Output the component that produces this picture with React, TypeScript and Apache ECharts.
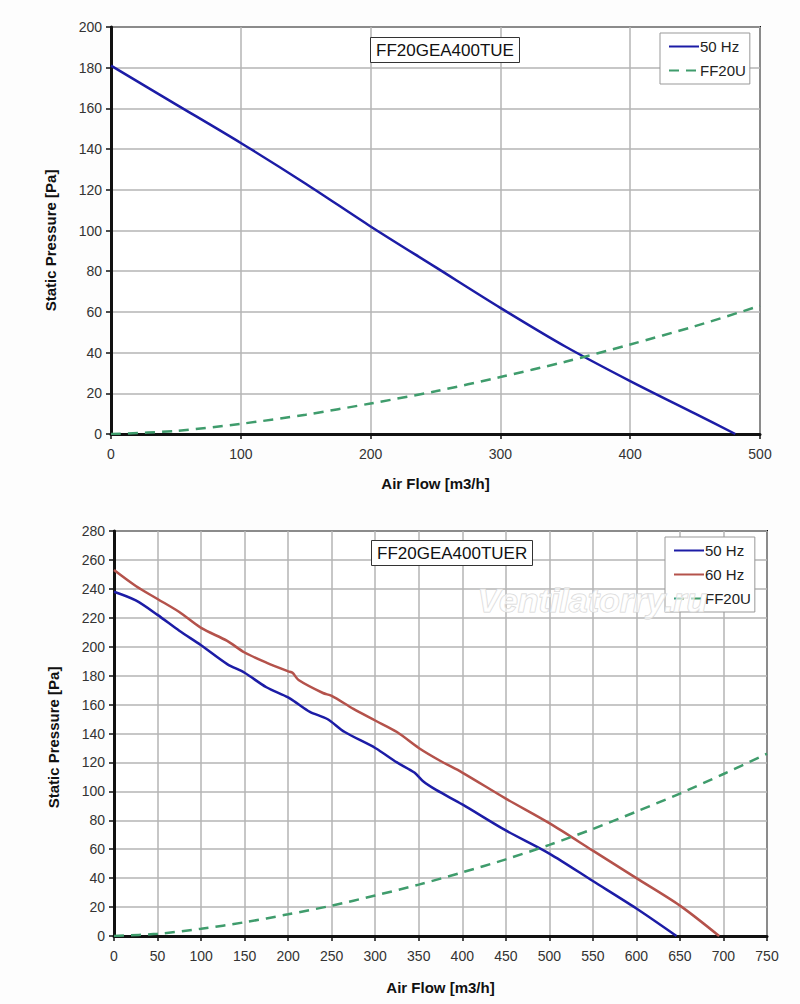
import React, { useEffect, useRef } from "react";
import * as echarts from "echarts";

// Top chart: FF20GEA400TUE
const topFan50: [number, number][] = [
  [0, 181], [50, 162], [100, 143], [150, 123], [200, 102], [250, 82],
  [300, 62], [350, 43], [400, 26], [450, 10], [481, 0],
];
const topFF20U: [number, number][] = [
  [0, 0], [50, 1.5], [100, 5], [150, 9.5], [200, 15], [250, 21],
  [300, 28], [350, 35.5], [400, 44], [450, 53], [500, 63],
];

// Bottom chart: FF20GEA400TUER
const botFan50: [number, number][] = [
  [0, 238], [25, 232], [50, 222], [75, 211], [100, 201], [130, 188], [150, 182],
  [175, 172], [200, 165], [210, 161], [225, 155], [245, 150], [265, 141],
  [300, 130], [325, 120], [345, 113], [355, 107], [370, 101], [400, 91],
  [450, 73], [500, 57], [550, 38], [600, 19], [646, 0],
];
const botFan60: [number, number][] = [
  [0, 253], [25, 242], [50, 233], [75, 224], [100, 213], [130, 204], [150, 196],
  [175, 189], [200, 183], [205, 182], [212, 177], [240, 168], [250, 166],
  [275, 157], [300, 149], [325, 141], [350, 130], [375, 121], [400, 113],
  [450, 95], [500, 78], [550, 59], [600, 40], [650, 21], [695, 0],
];
const botFF20U: [number, number][] = [
  [0, 0], [50, 1.5], [100, 5], [150, 9.5], [200, 15], [250, 21], [300, 28],
  [350, 35.5], [400, 44], [450, 53], [500, 63], [550, 74], [600, 86],
  [650, 98.5], [700, 112], [750, 126],
];

const topTitle = "FF20GEA400TUE";
const botTitle = "FF20GEA400TUER";
const yName = "Static Pressure [Pa]";
const xName = "Air Flow [m3/h]";

const BLUE = "#1c1ca6";
const RED = "#b4524b";
const GREEN = "#3f9c6c";
const FONT = "Liberation Sans, Arial, sans-serif";

export default function App() {
  const ref = useRef<HTMLDivElement>(null);
  useEffect(() => {
    document.body.style.margin = "0";
    const chart = echarts.init(ref.current!, undefined, { renderer: "svg" });
    const axisLabel = { color: "#333", fontSize: 14, fontFamily: FONT };
    const nameStyle = { color: "#111", fontSize: 15, fontWeight: "bold" as const, fontFamily: FONT };
    const split = { show: true, lineStyle: { color: "#b4b4b4", width: 1.5 } };
    const xAxisBase = (gridIndex: number, max: number, interval: number, gap: number) => ({
      type: "value", gridIndex, min: 0, max, interval,
      name: xName, nameLocation: "middle", nameGap: gap, nameTextStyle: nameStyle,
      axisLine: { show: true, onZero: false, lineStyle: { color: "#111", width: 3 } },
      axisTick: { show: true, length: 5, lineStyle: { color: "#111", width: 1.5 } },
      axisLabel: { ...axisLabel, margin: 13 },
      splitLine: split,
    });
    const yAxisBase = (gridIndex: number, max: number, shift: number) => ({
      type: "value", gridIndex, min: 0, max, interval: 20,
      name: yName, nameLocation: "middle", nameGap: 53,
      nameTextStyle: { ...nameStyle, padding: [0, shift, 0, 0] },
      axisLine: { show: true, onZero: false, lineStyle: { color: "#111", width: 3 } },
      axisTick: { show: true, length: 5, lineStyle: { color: "#111", width: 1.5 } },
      axisLabel: { ...axisLabel, margin: 9 },
      splitLine: split,
    });
    const line = (name: string, data: [number, number][], color: string, idx: number, dashed = false) => ({
      type: "line", name, data, xAxisIndex: idx, yAxisIndex: idx,
      symbol: "none", smooth: 0.3, color,
      lineStyle: { color, width: 2.5, type: dashed ? [10, 7] : "solid" },
    });
    const legendBase = {
      orient: "vertical", padding: [6, 4, 6, 8], itemGap: 9,
      itemWidth: 30, itemHeight: 10, borderColor: "#999", borderWidth: 1, backgroundColor: "#fff",
      itemStyle: { color: "rgba(0,0,0,0)", borderWidth: 0, opacity: 0 },
      textStyle: { fontSize: 15, color: "#222", fontFamily: FONT, padding: [0, 0, 0, -4] },
    };
    const titleBase = {
      padding: [5, 6, 4, 6], borderColor: "#333", borderWidth: 1, backgroundColor: "#fff",
      textStyle: { fontSize: 17, fontWeight: "normal", color: "#111", fontFamily: FONT },
    };
    chart.setOption({
      animation: false,
      backgroundColor: "#fdfdfd",
      grid: [
        { left: 111, top: 27, width: 649, height: 407, show: true, borderColor: "#111", borderWidth: 2, backgroundColor: "#fff" },
        { left: 114, top: 531, width: 653, height: 405, show: true, borderColor: "#111", borderWidth: 2, backgroundColor: "#fff" },
      ],
      title: [
        { ...titleBase, text: topTitle, left: 370, top: 37 },
        { ...titleBase, text: botTitle, left: 371, top: 540 },
      ],
      legend: [
        { ...legendBase, data: ["50 Hz", "FF20U"], left: 660, top: 33 },
        { ...legendBase, data: ["50 Hz", "60 Hz", "FF20U"], left: 665, top: 537 },
      ],
      xAxis: [xAxisBase(0, 500, 100, 42), xAxisBase(1, 750, 50, 44)],
      yAxis: [yAxisBase(0, 200, 20), yAxisBase(1, 280, 8)],
      series: [
        line("50 Hz", topFan50, BLUE, 0),
        line("FF20U", topFF20U, GREEN, 0, true),
        line("50 Hz", botFan50, BLUE, 1),
        line("60 Hz", botFan60, RED, 1),
        line("FF20U", botFF20U, GREEN, 1, true),
      ],
      graphic: [
        { type: "text", left: 477, top: 582, z: 100, silent: true,
          style: { text: "Ventilatorry.ru", fontSize: 34, fontStyle: "italic", fontWeight: "bold", fontFamily: FONT,
            fill: "rgba(255,255,255,0.6)", stroke: "#d4d4d4", lineWidth: 1 } },
      ],
    });
    return () => chart.dispose();
  }, []);
  return <div ref={ref} style={{ width: 800, height: 1004 }} />;
}
